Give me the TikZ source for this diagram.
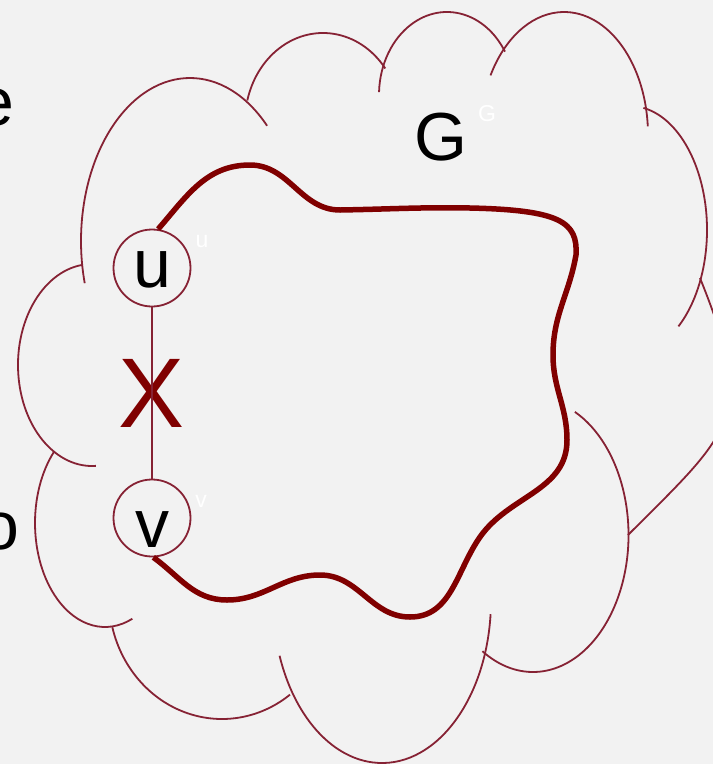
\documentclass[tikz,border=0pt]{standalone}
\usepackage{fontspec}
\setmainfont{Liberation Sans}
\usetikzlibrary{positioning}
\definecolor{cloudred}{RGB}{134,34,52}
\definecolor{pathred}{RGB}{128,0,0}
\definecolor{slidebg}{RGB}{242,242,242}

\begin{document}
\begin{tikzpicture}[x=1pt,y=1pt]
\tikzstyle{every node}+=[inner sep=0pt]
\tikzstyle{puff}=[cloudred, line width=1.8pt]
\tikzstyle{vertex}=[circle, draw=cloudred, line width=1.8pt, minimum size=77pt, font=\fontsize{68}{68}\selectfont]
\tikzstyle{big}=[font=\fontsize{68}{68}\selectfont]
\tikzstyle{tag}=[white, font=\fontsize{23}{23}\selectfont]
\tikzstyle{cut}=[pathred, font=\fontsize{99}{99}\selectfont]
\tikzstyle{route}=[pathred, line width=5.5pt]
\useasboundingbox (0,0) rectangle (713,-764);
\fill [slidebg] (0,0) rectangle (713,-764);
\clip (0,0) rectangle (713,-764);
% cloud
\draw [puff] (190,-241) ++(45:109pt and 163pt) arc [start angle=45, end angle=195, x radius=109pt, y radius=163pt];
\draw [puff] (323,-122) ++(37:78pt and 89pt) arc [start angle=37, end angle=166, x radius=78pt, y radius=89pt];
\draw [puff] (447,-95) ++(31.5:68pt and 83pt) arc [start angle=31.5, end angle=178, x radius=68pt, y radius=83pt];
\draw [puff] (564,-135) ++(4:84pt and 123pt) arc [start angle=4, end angle=151, x radius=84pt, y radius=123pt];
\draw [puff] (630,-230) ++(80:77pt and 124pt) arc [start angle=80, end angle=-51, x radius=77pt, y radius=124pt];
\draw [puff] (700,-278) .. controls (756,-417) and (734,-429) .. (628,-535);
\draw [puff] (533,-535) ++(64:95.5pt and 137pt) arc [start angle=64, end angle=-122, x radius=95.5pt, y radius=137pt];
\draw [puff] (382,-600) ++(-5:109pt and 163pt) arc [start angle=-5, end angle=-160, x radius=109pt, y radius=163pt];
\draw [puff] (222,-598) ++(194:113pt and 121pt) arc [start angle=194, end angle=307, x radius=113pt, y radius=121pt];
\draw [puff] (105,-523) ++(136.5:70pt and 104pt) arc [start angle=136.5, end angle=293, x radius=70pt, y radius=104pt];
\draw [puff] (92,-365) ++(98:74pt and 101pt) arc [start angle=98, end angle=273, x radius=74pt, y radius=101pt];
% texts
\node [big, anchor=base east] (e) at (15,-125) {e};
\node [big, anchor=base east] (o) at (20,-549) {o};
\node [big] (g) at (441,-137.5) {G};
\node [tag] (glbl) at (487,-114) {G};
% vertices
\node [vertex, text height=40pt] (u) at (152,-268) {u};
\node [vertex, text height=58pt] (v) at (152,-518) {v};
\node [tag] (ulbl) at (202,-241.5) {u};
\node [tag] (vlbl) at (201,-501.5) {v};
\path (u) -- (v) node [cut, midway] (x) {X};
\draw [cloudred, line width=1.8pt] (u) -- (v);
\draw [route] (u.81) to[out=49,in=180] (250,-165) to[out=0,in=180] (340,-210)
  to[out=1,in=179] (470,-208) .. controls (560,-210) and (578,-222) .. (576,-255)
  to[out=-100,in=90] (553,-355) to[out=-90,in=90] (567,-440)
  to[out=-90,in=55] (480,-537) to[out=-125,in=0] (410,-617)
  to[out=180,in=0] (320,-575) to[out=180,in=0] (227,-600)
  to[out=180,in=-36] (v.-88);
\end{tikzpicture}
\end{document}
